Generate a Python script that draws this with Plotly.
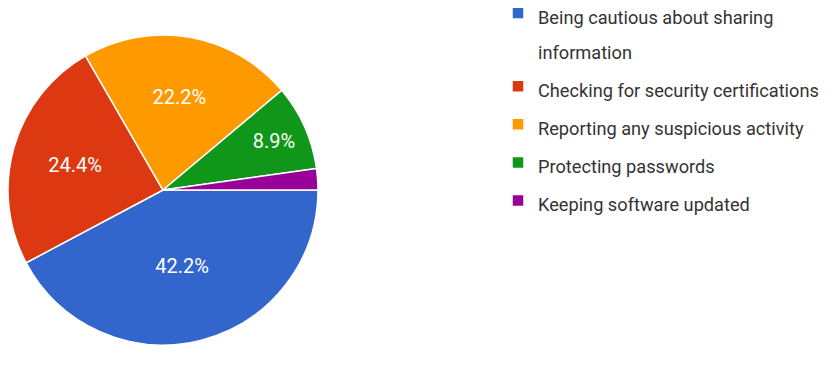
import plotly.graph_objects as go

labels = [
    "Being cautious about sharing<br>information",
    "Checking for security certifications",
    "Reporting any suspicious activity",
    "Protecting passwords",
    "Keeping software updated",
]
responses = [19, 11, 10, 4, 1]
colors = ["#3366CC", "#DC3912", "#FF9900", "#109618", "#990099"]
slice_text = ["%{percent:.1%}", "%{percent:.1%}", "%{percent:.1%}", "%{percent:.1%}", ""]

W, H = 832, 374
OFF = 8  # page body margin offset
cx, cy, r = 163 - OFF, 190 - OFF, 155

fig = go.Figure(
    go.Pie(
        labels=[f"<span style='font-size:18.2px'>{l}</span>" for l in labels],
        values=responses,
        sort=False,
        direction="clockwise",
        rotation=90,
        marker=dict(colors=colors, line=dict(color="white", width=1.5)),
        texttemplate=slice_text,
        textposition="inside",
        insidetextorientation="horizontal",
        textfont=dict(family="Roboto, Arial, sans-serif", size=20, color="white"),
        hoverinfo="label+percent",
        domain=dict(
            x=[max(0, (cx - r) / W), (cx + r) / W],
            y=[(H - cy - r) / H, (H - cy + r) / H],
        ),
    )
)

fig.update_layout(
    width=W,
    height=H,
    margin=dict(l=0, r=0, t=0, b=0, autoexpand=False),
    paper_bgcolor="white",
    plot_bgcolor="white",
    font=dict(family="Roboto, Arial, sans-serif", color="#333333"),
    legend=dict(
        x=(538 - 40 - OFF) / W,
        xanchor="left",
        y=1 - 99 / H,
        yanchor="middle",
        valign="top",
        font=dict(family="Roboto, Arial, sans-serif", size=27, color="#333333"),
        bgcolor="rgba(0,0,0,0)",
    ),
    showlegend=True,
)

fig.write_html("out.html")
